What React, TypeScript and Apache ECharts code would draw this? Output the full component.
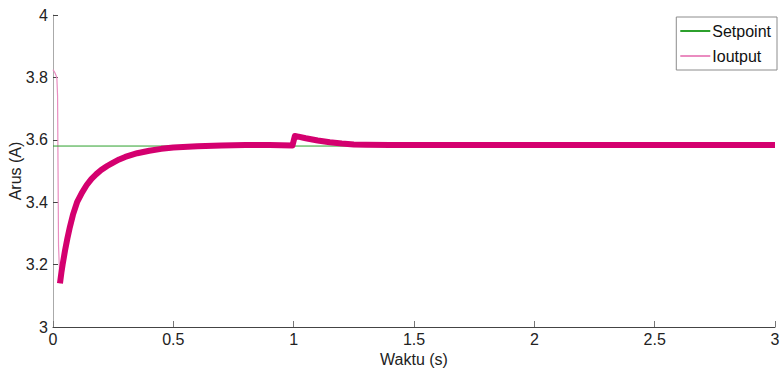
import React, { useEffect, useRef } from "react";
import * as echarts from "echarts";

const setpointTime = [0, 3];
const setpointValue = [3.58, 3.58];

// initial transient (thin trace)
const initTime = [0, 0.008, 0.016, 0.019, 0.021, 0.023, 0.026, 0.029];
const initValue = [3.825, 3.815, 3.8, 3.74, 3.5, 3.26, 3.2, 3.14];

// main response (thick rippled trace)
const mainTime = [
  0.029, 0.035, 0.04, 0.05, 0.06, 0.07, 0.083, 0.1, 0.12, 0.14, 0.16, 0.18, 0.2,
  0.225, 0.25, 0.275, 0.3, 0.35, 0.4, 0.45, 0.5, 0.6, 0.7, 0.8, 0.9, 0.995, 1.005,
  1.02, 1.05, 1.1, 1.15, 1.2, 1.25, 1.3, 1.4, 1.5, 2.0, 2.5, 3.0,
];
const mainValue = [
  3.14, 3.175, 3.2, 3.245, 3.285, 3.32, 3.36, 3.4, 3.43, 3.455, 3.475, 3.49, 3.503,
  3.516, 3.527, 3.537, 3.545, 3.557, 3.565, 3.571, 3.575, 3.579, 3.582, 3.583,
  3.583, 3.582, 3.612, 3.61, 3.605, 3.598, 3.592, 3.588, 3.585, 3.584, 3.583,
  3.583, 3.583, 3.583, 3.583,
];

const xTicks = [0, 0.5, 1, 1.5, 2, 2.5, 3];
const yTicks = [3, 3.2, 3.4, 3.6, 3.8, 4];

const zip = (a: number[], b: number[]) => a.map((v, i) => [v, b[i]]);
const FONT = "'Liberation Sans', Arial, sans-serif";

export default function App() {
  const ref = useRef<HTMLDivElement>(null);
  useEffect(() => {
    if (!ref.current) return;
    const chart = echarts.init(ref.current, null, { renderer: "svg" });
    chart.setOption({
      animation: false,
      backgroundColor: "#ffffff",
      grid: {
        left: 53,
        right: 6,
        top: 15,
        bottom: 43,
        containLabel: false,
        outerBoundsMode: "none",
      },
      legend: {
        orient: "vertical",
        right: 4,
        top: 17,
        backgroundColor: "#ffffff",
        borderColor: "#8c8c8c",
        borderWidth: 1,
        borderRadius: 0,
        padding: [6, 6, 6, 4],
        itemWidth: 30,
        itemHeight: 2,
        itemGap: 9,
        textStyle: { fontFamily: FONT, fontSize: 16, color: "#111", padding: [0, 0, 0, -3] },
        data: [
          { name: "Setpoint", icon: "rect", itemStyle: { color: "#2ca02c" } },
          { name: "Ioutput", icon: "rect", itemStyle: { color: "#ea8cc0" } },
        ],
      },
      xAxis: {
        type: "value",
        min: xTicks[0],
        max: xTicks[xTicks.length - 1],
        interval: 0.5,
        name: "Waktu (s)",
        nameLocation: "middle",
        nameGap: 24,
        nameMoveOverlap: false,
        nameTextStyle: { fontFamily: FONT, fontSize: 16, color: "#222" },
        axisLine: { lineStyle: { color: "#444", width: 1 } },
        axisTick: { inside: true, length: 6, lineStyle: { color: "#777" } },
        axisLabel: { fontFamily: FONT, fontSize: 16, color: "#222", margin: 4 },
        splitLine: { show: false },
      },
      yAxis: {
        type: "value",
        min: yTicks[0],
        max: yTicks[yTicks.length - 1],
        interval: 0.2,
        name: "Arus (A)",
        nameLocation: "middle",
        nameRotate: 90,
        nameGap: 30,
        nameMoveOverlap: false,
        nameTextStyle: { fontFamily: FONT, fontSize: 16, color: "#222" },
        axisLine: { show: true, lineStyle: { color: "#aaa", width: 1 } },
        axisTick: { show: true, inside: true, length: 5, lineStyle: { color: "#444" } },
        axisLabel: { fontFamily: FONT, fontSize: 16, color: "#222", margin: 5 },
        splitLine: { show: false },
      },
      series: [
        {
          name: "Setpoint",
          type: "line",
          data: zip(setpointTime, setpointValue),
          symbol: "none",
          lineStyle: { color: "#2ca02c", width: 1 },
          itemStyle: { color: "#2ca02c" },
          z: 3,
        },
        {
          name: "Ioutput",
          type: "line",
          data: zip(initTime, initValue),
          symbol: "none",
          lineStyle: { color: "#ea8cc0", width: 1.2 },
          itemStyle: { color: "#ea8cc0" },
          z: 2,
        },
        {
          name: "Ioutput",
          type: "line",
          data: zip(mainTime, mainValue),
          symbol: "none",
          lineStyle: { color: "#d4006f", width: 6, cap: "butt", join: "round" },
          itemStyle: { color: "#d4006f" },
          z: 4,
        },
      ],
    });
    return () => chart.dispose();
  }, []);
  return (
    <div
      ref={ref}
      style={{ position: "absolute", left: 0, top: 0, width: 781, height: 370 }}
    />
  );
}
